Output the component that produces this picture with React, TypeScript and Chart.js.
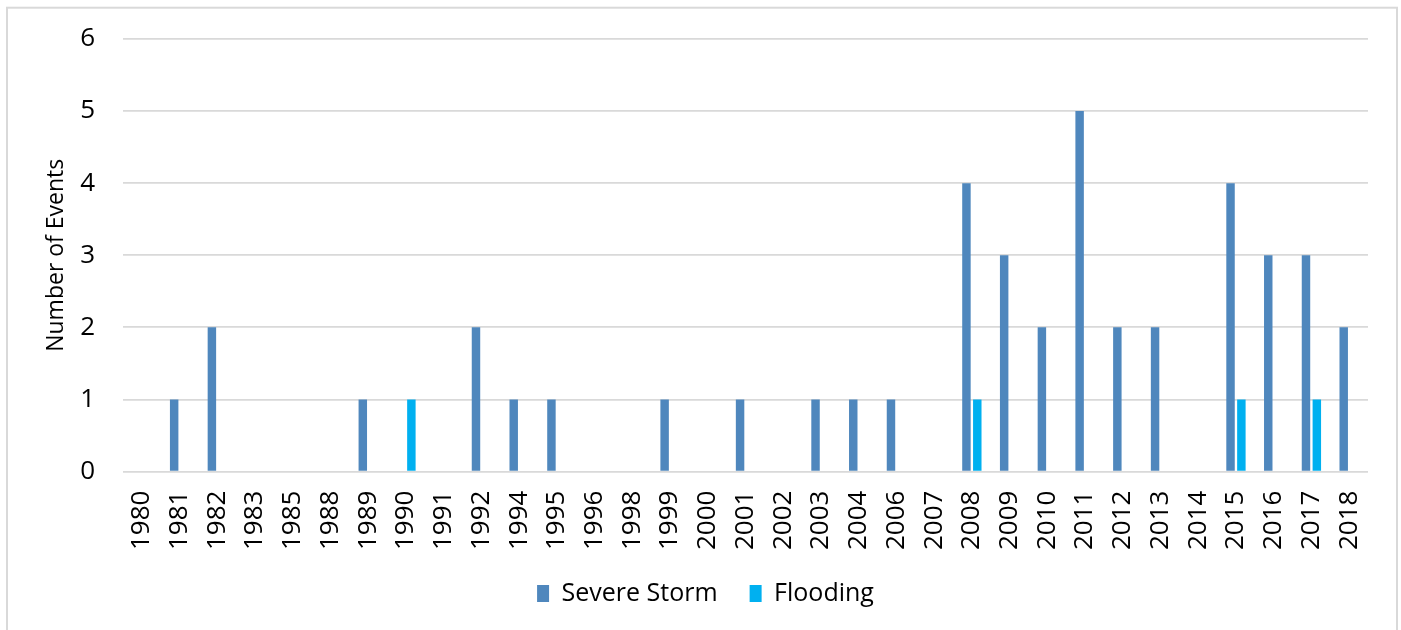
import React, { useEffect, useRef } from "react";
import { Chart, registerables } from "chart.js";

Chart.register(...registerables);

const years = [
  "1980", "1981", "1982", "1983", "1985", "1988", "1989", "1990", "1991", "1992",
  "1994", "1995", "1996", "1998", "1999", "2000", "2001", "2002", "2003", "2004",
  "2006", "2007", "2008", "2009", "2010", "2011", "2012", "2013", "2014", "2015",
  "2016", "2017", "2018",
];

const severeStorm = [
  0, 1, 2, 0, 0, 0, 1, 0, 0, 2,
  1, 1, 0, 0, 1, 0, 1, 0, 1, 1,
  1, 0, 4, 3, 2, 5, 2, 2, 0, 4,
  3, 3, 2,
];

const flooding = [
  0, 0, 0, 0, 0, 0, 0, 1, 0, 0,
  0, 0, 0, 0, 0, 0, 0, 0, 0, 0,
  0, 0, 1, 0, 0, 0, 0, 0, 0, 1,
  0, 1, 0,
];

const yTicks = [0, 1, 2, 3, 4, 5, 6];

const FONT = "'Open Sans', 'DejaVu Sans', sans-serif";

const frame = {
  id: "frame",
  beforeDraw(chart: any) {
    const { ctx, width, height } = chart;
    ctx.save();
    ctx.fillStyle = "#ffffff";
    ctx.fillRect(0, 0, width, height);
    ctx.restore();
  },
  afterDraw(chart: any) {
    const { ctx } = chart;
    ctx.save();
    ctx.strokeStyle = "#d9d9d9";
    ctx.lineWidth = 2;
    ctx.strokeRect(7, 7.7, 1390, 700);
    ctx.restore();
  },
};

export default function App() {
  const ref = useRef<HTMLCanvasElement | null>(null);

  useEffect(() => {
    document.body.style.margin = "0";
    if (!ref.current) return;
    const chart = new Chart(ref.current, {
      type: "bar",
      data: {
        labels: years,
        datasets: [
          {
            label: "Severe Storm",
            data: severeStorm,
            backgroundColor: "#4f87bd",
            borderWidth: 0,
            categoryPercentage: 0.575,
            barPercentage: 0.78,
          },
          {
            label: "Flooding",
            data: flooding,
            backgroundColor: "#00b0f0",
            borderWidth: 0,
            categoryPercentage: 0.575,
            barPercentage: 0.78,
          },
        ],
      },
      options: {
        responsive: false,
        animation: false,
        layout: { padding: { left: 43, right: 33, top: 39, bottom: 14 } },
        plugins: {
          legend: {
            position: "bottom",
            labels: {
              boxWidth: 12,
              boxHeight: 17,
              padding: 32,
              color: "#000",
              font: { family: FONT, size: 25 },
            },
          },
          tooltip: { enabled: false },
        },
        scales: {
          x: {
            grid: { display: false, drawTicks: false },
            border: { display: false },
            afterFit(scale: any) {
              scale.height = scale.height - 20;
            },
            ticks: {
              autoSkip: false,
              minRotation: 90,
              maxRotation: 90,
              padding: 19,
              color: "#000",
              font: { family: FONT, size: 26 },
            },
          },
          y: {
            min: 0,
            max: 6,
            afterFit(scale: any) {
              scale.width = 80;
            },
            afterBuildTicks(scale: any) {
              scale.ticks = yTicks.map((v) => ({ value: v }));
            },
            grid: {
              color: "#d9d9d9",
              lineWidth: 1.8,
              drawTicks: true,
              tickLength: 28,
              tickColor: "rgba(0,0,0,0)",
            },
            border: { display: false },
            ticks: {
              padding: 0,
              color: "#000",
              font: { family: FONT, size: 26 },
            },
            title: {
              display: true,
              text: "Number of Events",
              color: "#000",
              padding: { top: 0, bottom: 0 },
              font: { family: FONT, size: 23 },
            },
          },
        },
      },
      plugins: [frame],
    });
    return () => chart.destroy();
  }, []);

  return (
    <div style={{ width: 1401, height: 630 }}>
      <canvas ref={ref} width={1401} height={630} style={{ display: "block" }} />
    </div>
  );
}
